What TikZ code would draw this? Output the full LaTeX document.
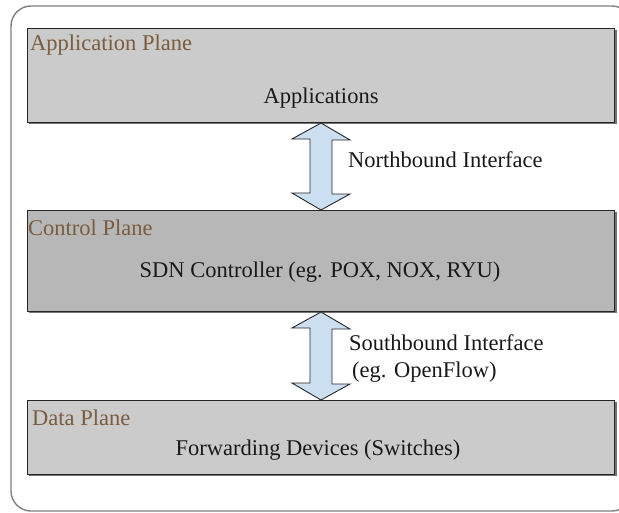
\documentclass[tikz,border=0pt]{standalone}
\usepackage{fontspec}
\setmainfont{Liberation Serif}
\begin{document}
\begin{tikzpicture}[x=1pt,y=-1pt,
  plane/.style={draw=black!85, line width=1pt, rectangle, anchor=north west, inner sep=0pt},
  shadowbox/.style={fill=black!55, draw=none},
  planelabel/.style={anchor=west, text=labelbrown, font=\fontsize{22.5}{25}\selectfont, inner sep=0pt},
  maintext/.style={text=black!90, font=\fontsize{22.5}{25}\selectfont, inner sep=0pt},
  bigarrow/.style={draw=black!85, line width=0.9pt, fill=arrowblue, line join=miter}
]
\definecolor{labelbrown}{HTML}{7A5C3E}
\definecolor{arrowblue}{HTML}{CCDFF1}
\definecolor{boxlight}{HTML}{CBCBCB}
\definecolor{boxdark}{HTML}{B7B7B7}
\useasboundingbox (0,0) rectangle (619,512);
\begin{scope}
\clip (0,0) rectangle (619,512);
\draw[black!50, line width=1.4pt, rounded corners=20pt] (11,6) rectangle (632,511);
\end{scope}
% shadows
\fill[shadowbox] (29,30) rectangle (616.5,124);
\fill[shadowbox] (29,212) rectangle (616.5,313);
\fill[shadowbox] (29,402) rectangle (616.5,476);
% boxes
\node[plane, fill=boxlight, minimum width=587pt, minimum height=94pt] (app) at (27,28) {};
\node[plane, fill=boxdark, minimum width=587pt, minimum height=101pt] (ctrl) at (27,210) {};
\node[plane, fill=boxlight, minimum width=587pt, minimum height=74pt] (data) at (27,400) {};
% labels
\node[planelabel] (applbl) at (30,45) {Application Plane};
\node[maintext] (apptxt) at (321,98) {Applications};
\node[planelabel] (ctrllbl) at (28,228) {Control Plane};
\node[maintext] (ctrltxt) at (320,272) {SDN Controller (eg. POX, NOX, RYU)};
\node[planelabel] (datalbl) at (32,418) {Data Plane};
\node[maintext] (datatxt) at (318,450) {Forwarding Devices (Switches)};
% arrows
\draw[bigarrow] (app.south -| 321,0) -- ++(29,17) -- ++(-18,0) -- ++(0,54) -- ++(18,0) -- (ctrl.north -| 321,0) -- ++(-29,-17) -- ++(18,0) -- ++(0,-54) -- ++(-18,0) -- cycle;
\draw[bigarrow] (ctrl.south -| 321,0) -- ++(29,17) -- ++(-18,0) -- ++(0,55) -- ++(18,0) -- (data.north -| 321,0) -- ++(-29,-17) -- ++(18,0) -- ++(0,-55) -- ++(-18,0) -- cycle;
\node[maintext, anchor=west] (nb) at (348,160) {Northbound Interface};
\node[maintext, anchor=west] (sb1) at (349,343) {Southbound Interface};
\node[maintext, anchor=west] (sb2) at (352,372) {(eg. OpenFlow)};
\end{tikzpicture}
\end{document}
